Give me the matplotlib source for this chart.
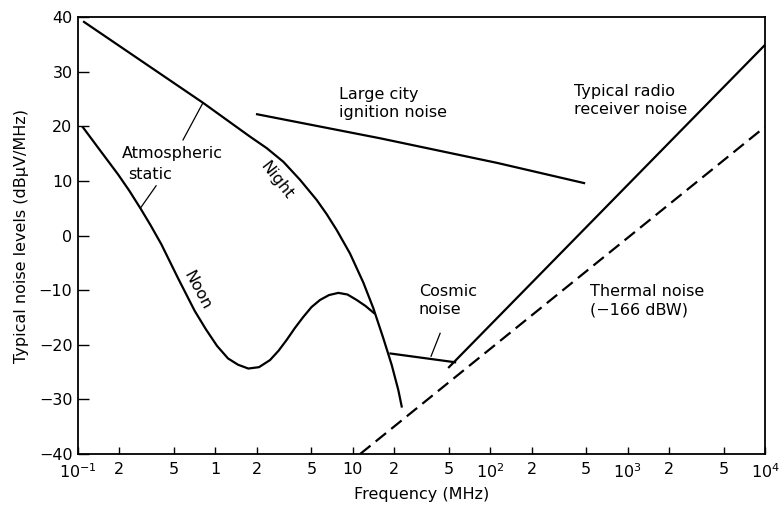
import matplotlib
matplotlib.use("Agg")
import matplotlib.pyplot as plt

# values (frequency in MHz, level in dBuV/MHz)
night_f = [0.1106, 0.812, 1.786, 2.362, 3.121, 4.128, 5.462, 6.457, 7.636, 9.541,
           11.92, 14.10, 16.67, 19.19, 21.44, 22.69]
night_db = [39.1, 24.3, 18.1, 16.0, 13.5, 10.2, 6.5, 3.9, 1.0, -3.3,
            -8.6, -13.3, -18.8, -23.7, -28.3, -31.3]

noon_f = [0.1087, 0.1398, 0.1955, 0.2362, 0.2859, 0.3371, 0.404, 0.5342, 0.7068, 0.8543,
          1.027, 1.235, 1.460, 1.735, 2.076, 2.497, 2.879, 3.303, 3.796, 4.362,
          5.005, 5.771, 6.711, 7.844, 9.151, 10.67, 12.37, 14.27]
noon_db = [19.8, 16.1, 11.2, 8.2, 4.9, 1.9, -1.6, -7.8, -13.8, -17.2,
           -20.2, -22.5, -23.65, -24.35, -24.1, -22.8, -21.1, -19.1, -16.9, -14.9,
           -13.1, -11.8, -10.9, -10.5, -10.8, -11.8, -12.9, -14.2]

city_f = [2.01, 15.8, 112, 482]
city_db = [22.2, 17.8, 13.3, 9.6]

cosmic_f = [18.8, 55.5]
cosmic_db = [-21.6, -23.2]

receiver_f = [50.1, 1e4]
receiver_db = [-24.1, 34.9]

thermal_f = [11.3, 1e4]
thermal_db = [-40.0, 19.9]

xticks = [0.1, 0.2, 0.5, 1, 2, 5, 10, 20, 50, 100, 200, 500, 1000, 2000, 5000, 10000]
xticklabels = [r'$10^{-1}$', '2', '5', '1', '2', '5', '10', '2', '5',
               r'$10^2$', '2', '5', r'$10^3$', '2', '5', r'$10^4$']
yticks = [-40, -30, -20, -10, 0, 10, 20, 30, 40]

fig = plt.figure(figsize=(7.84, 5.11), dpi=100)
ax = fig.add_axes([0.0995, 0.1115, 0.8763, 0.8552])

lw = 1.6
ax.plot(night_f, night_db, color='black', lw=lw)
ax.plot(noon_f, noon_db, color='black', lw=lw)
ax.plot(city_f, city_db, color='black', lw=lw)
ax.plot(cosmic_f, cosmic_db, color='black', lw=lw)
ax.plot(receiver_f, receiver_db, color='black', lw=lw)
ax.plot(thermal_f, thermal_db, color='black', lw=lw, linestyle=(0, (6, 3)))

# leader lines
ax.plot([0.812, 0.581], [24.3, 17.5], color='black', lw=0.9)
ax.plot([0.370, 0.288], [9.1, 5.2], color='black', lw=0.9)
ax.plot([43.2, 37.1], [-17.9, -22.1], color='black', lw=0.9)

fs = 11.5
ax.text(0.209, 16.4, 'Atmospheric', fontsize=fs, ha='left', va='top')
ax.text(0.231, 12.5, 'static', fontsize=fs, ha='left', va='top')
ax.text(7.94, 27.2, 'Large city\nignition noise', fontsize=fs, ha='left', va='top', linespacing=1.25)
ax.text(407, 27.7, 'Typical radio\nreceiver noise', fontsize=fs, ha='left', va='top', linespacing=1.25)
ax.text(30.3, -8.9, 'Cosmic\nnoise', fontsize=fs, ha='left', va='top', linespacing=1.25)
ax.text(532, -8.9, 'Thermal noise\n(\u2212166 dBW)', fontsize=fs, ha='left', va='top', linespacing=1.25)
ax.text(2.81, 10.0, 'Night', fontsize=fs, ha='center', va='center', rotation=-52)
ax.text(0.734, -10.0, 'Noon', fontsize=fs, ha='center', va='center', rotation=-62)

ax.set_xscale('log')
ax.set_xlim(0.1, 1e4)
ax.set_ylim(-40, 40)
ax.set_xticks(xticks)
ax.set_xticklabels(xticklabels)
ax.minorticks_off()
ax.set_yticks(yticks)
ax.tick_params(axis='x', direction='in', length=5, width=1, labelsize=fs, pad=6)
ax.tick_params(axis='y', direction='in', length=8, width=1, labelsize=fs, pad=4)
for s in ax.spines.values():
    s.set_linewidth(1.3)

ax.set_xlabel('Frequency (MHz)', fontsize=fs, labelpad=4)
ax.set_ylabel('Typical noise levels (dB\u03bcV/MHz)', fontsize=fs, labelpad=7)

fig.savefig('out.png', dpi=100)
